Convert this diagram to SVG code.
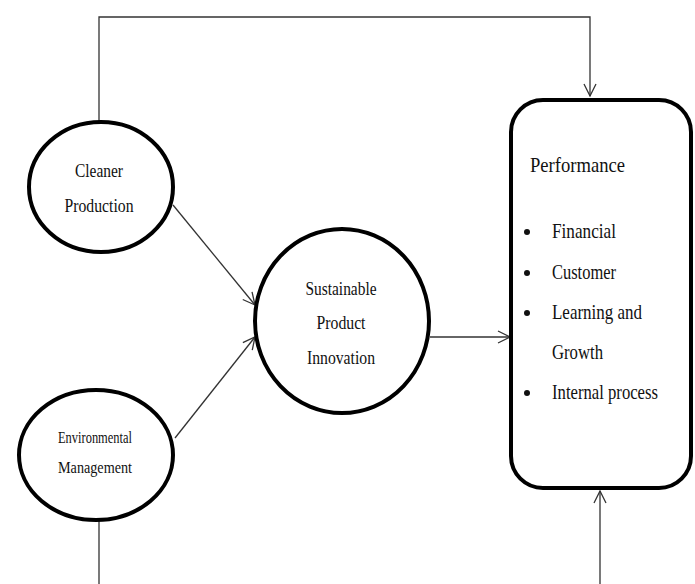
<svg xmlns="http://www.w3.org/2000/svg" width="695" height="584" viewBox="0 0 695 584">
<style>
.bg{fill:#fff}
.node{fill:#fff;stroke:#000;stroke-width:4}
.conn{fill:none;stroke:#333;stroke-width:1.3}
.t{font-family:"Liberation Serif","Times New Roman",serif;fill:#111}
.lbl{font-size:19px;text-anchor:middle}
.sm{font-size:16px;text-anchor:middle}
.big{font-size:22px}
.dot{fill:#111}
</style>
<defs>
<marker id="arr" markerUnits="userSpaceOnUse" markerWidth="14" markerHeight="14" viewBox="0 0 14 14" refX="13" refY="7" orient="auto">
<path d="M1,1 L13,7 L1,13" fill="none" stroke="#333" stroke-width="1.3"/>
</marker>
</defs>
<rect class="bg" x="0" y="0" width="695" height="584"/>
<g id="connectors">
<path class="conn" d="M99,122 V17 H590 V96" marker-end="url(#arr)"/>
<path class="conn" d="M99,520 V592 H600 V491" marker-end="url(#arr)"/>
<path class="conn" d="M173,205 L255,305" marker-end="url(#arr)"/>
<path class="conn" d="M175,438 L255,337" marker-end="url(#arr)"/>
<path class="conn" d="M430,337 H510" marker-end="url(#arr)"/>
</g>
<g id="cleaner">
<ellipse class="node" cx="101" cy="187" rx="72" ry="65"/>
<text class="t lbl" x="99" y="177" textLength="48" lengthAdjust="spacingAndGlyphs">Cleaner</text>
<text class="t lbl" x="99" y="212" textLength="69" lengthAdjust="spacingAndGlyphs">Production</text>
</g>
<g id="environmental">
<ellipse class="node" cx="96" cy="455" rx="77" ry="65"/>
<text class="t sm" x="95" y="443" textLength="74" lengthAdjust="spacingAndGlyphs">Environmental</text>
<text class="t sm" x="95" y="473" textLength="74" lengthAdjust="spacingAndGlyphs">Management</text>
</g>
<g id="sustainable">
<ellipse class="node" cx="342" cy="321" rx="87" ry="92"/>
<text class="t lbl" x="341" y="295" textLength="71" lengthAdjust="spacingAndGlyphs">Sustainable</text>
<text class="t lbl" x="341" y="329" textLength="49" lengthAdjust="spacingAndGlyphs">Product</text>
<text class="t lbl" x="341" y="364" textLength="68" lengthAdjust="spacingAndGlyphs">Innovation</text>
</g>
<g id="performance">
<rect class="node" x="511" y="100" width="180" height="388" rx="32" ry="32"/>
<text class="t big" x="530" y="172" textLength="95" lengthAdjust="spacingAndGlyphs">Performance</text>
<circle class="dot" cx="527" cy="232" r="3"/>
<text class="t big" x="552" y="238" textLength="64" lengthAdjust="spacingAndGlyphs">Financial</text>
<circle class="dot" cx="527" cy="273" r="3"/>
<text class="t big" x="552" y="279" textLength="64" lengthAdjust="spacingAndGlyphs">Customer</text>
<circle class="dot" cx="527" cy="313" r="3"/>
<text class="t big" x="552" y="319" textLength="90" lengthAdjust="spacingAndGlyphs">Learning and</text>
<text class="t big" x="552" y="359" textLength="51" lengthAdjust="spacingAndGlyphs">Growth</text>
<circle class="dot" cx="527" cy="393" r="3"/>
<text class="t big" x="552" y="399" textLength="106" lengthAdjust="spacingAndGlyphs">Internal process</text>
</g>
</svg>
